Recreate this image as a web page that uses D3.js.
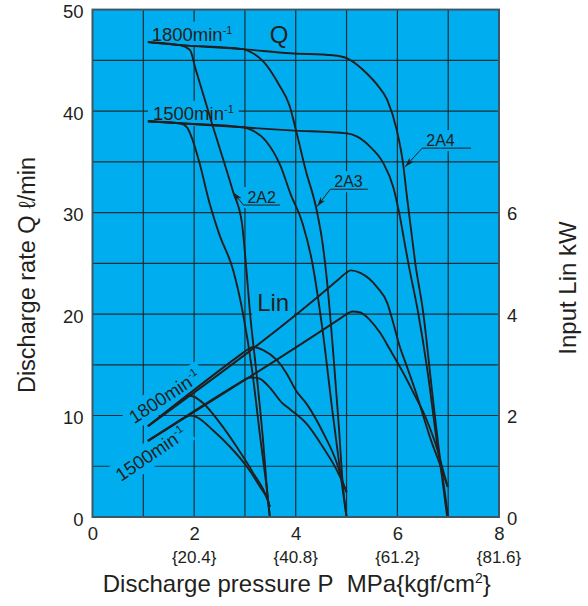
<!DOCTYPE html>
<html>
<head>
<meta charset="utf-8">
<script src="https://d3js.org/d3.v7.min.js"></script>
<style>
  body { margin: 0; background: #fff; }
  svg { display: block; font-family: "Liberation Sans", Arial, Helvetica, sans-serif; }
</style>
</head>
<body>
<div id="chart"></div>
<script>
// axis ticks
var pressureTicks = [0, 2, 4, 6, 8];
var kgfTicks = [2, 4, 6, 8];
var kgfLabels = ["{20.4}", "{40.8}", "{61.2}", "{81.6}"];
var flowTicks = [0, 10, 20, 30, 40, 50];
var powerTicks = [0, 2, 4, 6];

// discharge rate Q (l/min) against pressure P (MPa)
var q2A2_1800 = [[1.09,46.8],[1.72,46.5],[1.92,46.0],[2.02,44.3],[2.35,38.8],[2.77,32.0],[2.94,29.0],[3.03,24.3],[3.10,20.1],[3.22,14.5],[3.35,7.9],[3.45,1.9],[3.49,0]];
var q2A2_1500 = [[1.09,39.0],[1.72,38.8],[1.86,38.4],[1.96,37.3],[2.1,35.0],[2.3,31.0],[2.5,27.8],[2.77,24.3],[2.96,20.1],[3.14,14.5],[3.30,7.9],[3.45,1.9],[3.49,0]];
var q2A3_1800 = [[1.09,46.8],[1.72,46.5],[2.96,46.1],[3.12,45.8],[3.36,44.9],[3.67,42.6],[3.88,40.5],[4.01,38.0],[4.2,34.1],[4.4,30.5],[4.53,26.9],[4.61,23.5],[4.75,15.4],[4.85,8.8],[4.92,3.6],[5.0,0]];
var q2A3_1500 = [[1.09,39.0],[1.72,38.8],[2.96,38.4],[3.1,38.2],[3.42,37.0],[3.7,34.6],[3.9,31.8],[4.13,29.0],[4.32,25.2],[4.52,18.7],[4.72,10.5],[4.89,3.9],[5.0,0]];
var q2A4_1800 = [[1.09,46.8],[1.72,46.5],[2.96,46.1],[3.89,45.7],[4.73,45.5],[5.01,45.2],[5.2,44.6],[5.40,43.7],[5.60,42.6],[5.80,41.1],[5.99,38.1],[6.11,34.9],[6.19,31.5],[6.27,28.3],[6.35,25.1],[6.51,20.1],[6.68,12.5],[6.80,7.3],[6.90,3.6],[7.0,0]];
var q2A4_1500 = [[1.09,39.0],[1.72,38.8],[2.96,38.4],[3.89,38.1],[5.01,37.8],[5.2,37.5],[5.46,36.5],[5.72,34.9],[5.92,32.5],[6.05,29.6],[6.15,26.8],[6.22,24.9],[6.41,20.1],[6.59,14.5],[6.78,7.3],[6.88,3.9],[6.98,0]];

// input power Lin (kW) against pressure P (MPa)
var lin2A2_1800 = [[1.09,1.79],[1.6,2.18],[1.8,2.34],[1.9,2.39],[2.0,2.37],[2.17,2.25],[2.51,1.85],[2.84,1.38],[3.16,0.87],[3.45,0.33],[3.49,0.2]];
var lin2A2_1500 = [[1.09,1.5],[1.6,1.82],[1.8,1.95],[1.92,2.0],[2.05,1.97],[2.37,1.71],[2.71,1.38],[3.04,0.99],[3.30,0.59],[3.45,0.33],[3.49,0.2]];
var lin2A3_1800 = [[1.09,1.79],[2.9,3.19],[3.05,3.3],[3.16,3.35],[3.36,3.29],[3.63,3.09],[3.82,2.83],[4.0,2.5],[4.22,2.22],[4.54,1.66],[4.81,1.06],[4.93,0.67],[5.0,0.49]];
var lin2A3_1500 = [[1.09,1.5],[2.9,2.65],[3.0,2.71],[3.1,2.75],[3.28,2.73],[3.48,2.56],[3.73,2.25],[3.89,2.12],[4.22,1.83],[4.54,1.37],[4.81,0.92],[4.93,0.67],[5.0,0.49]];
var lin2A4_1800 = [[1.09,1.79],[4.85,4.69],[5.0,4.82],[5.08,4.86],[5.27,4.81],[5.6,4.53],[5.8,4.22],[5.92,3.82],[6.05,3.35],[6.19,2.96],[6.35,2.5],[6.68,1.46],[6.86,0.98],[6.99,0.59]];
var lin2A4_1500 = [[1.09,1.5],[4.9,3.93],[5.02,4.01],[5.11,4.05],[5.27,4.03],[5.46,3.88],[5.66,3.63],[5.86,3.29],[6.01,3.03],[6.19,2.7],[6.29,2.5],[6.57,1.93],[6.78,1.35],[6.88,0.99],[6.99,0.59]];

var qSeries = [q2A2_1800, q2A2_1500, q2A3_1800, q2A3_1500, q2A4_1800, q2A4_1500];
var linSeries = [lin2A2_1800, lin2A2_1500, lin2A3_1800, lin2A3_1500, lin2A4_1800, lin2A4_1500];

// model callouts: underline from p0 to p1 at flow q, arrow to (tipP, tipQ)
var models = [
  {name: "2A2", p0: 2.97, p1: 3.69, q: 30.74, tipP: 2.77, tipQ: 32.0},
  {name: "2A3", p0: 4.68, p1: 5.42, q: 32.3, tipP: 4.42, tipQ: 30.6},
  {name: "2A4", p0: 6.49, p1: 7.45, q: 36.35, tipP: 6.15, tipQ: 34.5}
];

var bg = "#00aeef", ink = "#231f20", gridColor = "#1d2c33";
var W = 588, H = 606;
var margin = {top: 9.6, right: 89, bottom: 89, left: 92.5},
    width = W - margin.left - margin.right,
    height = H - margin.top - margin.bottom;

var svg = d3.select("#chart")
  .append("svg")
    .attr("width", W)
    .attr("height", H);

var defs = svg.append("defs");
defs.append("marker")
    .attr("id", "arrow")
    .attr("viewBox", "0 0 10 6")
    .attr("refX", 10).attr("refY", 3)
    .attr("markerWidth", 10).attr("markerHeight", 6)
    .attr("markerUnits", "userSpaceOnUse")
    .attr("orient", "auto")
  .append("path")
    .attr("d", "M0,0 L10,3 L0,6 L3,3 Z")
    .attr("fill", ink);

var g = svg.append("g")
    .attr("transform", "translate(" + margin.left + "," + margin.top + ")");

var x = d3.scaleLinear().domain([0, 8]).range([0, width]);
var y = d3.scaleLinear().domain([0, 50]).range([height, 0]);
var yR = d3.scaleLinear().domain([0, 10]).range([height, 0]);

g.append("rect")
    .attr("width", width)
    .attr("height", height)
    .attr("fill", bg);

// grid
g.append("g").selectAll("line")
  .data(d3.range(1, 8))
  .join("line")
    .attr("x1", d => x(d)).attr("x2", d => x(d))
    .attr("y1", 0).attr("y2", height)
    .attr("stroke", gridColor).attr("stroke-width", 1.2);
g.append("g").selectAll("line")
  .data(d3.range(5, 50, 5))
  .join("line")
    .attr("y1", d => y(d)).attr("y2", d => y(d))
    .attr("x1", 0).attr("x2", width)
    .attr("stroke", gridColor).attr("stroke-width", 1.2);

var gaps = g.append("g");
var curveLayer = g.append("g");
var labelLayer = g.append("g").attr("fill", ink);

var qLine = d3.line()
    .x(d => x(d[0]))
    .y(d => y(d[1]))
    .curve(d3.curveMonotoneX);
var linLine = d3.line()
    .x(d => x(d[0]))
    .y(d => yR(d[1]))
    .curve(d3.curveMonotoneX);

curveLayer.selectAll(".q")
  .data(qSeries)
  .join("path")
    .attr("class", "q")
    .attr("d", qLine)
    .attr("fill", "none")
    .attr("stroke", ink)
    .attr("stroke-width", 1.9);

curveLayer.selectAll(".lin")
  .data(linSeries)
  .join("path")
    .attr("class", "lin")
    .attr("d", linLine)
    .attr("fill", "none")
    .attr("stroke", ink)
    .attr("stroke-width", 1.9);

// speed / quantity labels inside the plot
function addLabel(txt, sup, px, py, size, rot) {
  var t = labelLayer.append("text")
      .attr("transform", "translate(" + px + "," + py + ")" + (rot ? " rotate(" + rot + ")" : ""))
      .attr("font-size", size);
  t.append("tspan").text(txt);
  if (sup) {
    t.append("tspan").attr("font-size", size * 0.6).attr("dy", -size * 0.4).text(sup);
  }
  return t;
}

var labs = [];
labs.push(addLabel("1800min", "-1", x(1.165), y(46.9), 18.5));
labs.push(addLabel("1500min", "-1", x(1.19), y(39.1), 18.5));
labs.push(addLabel("Q", null, x(3.49), y(46.75), 24));
labs.push(addLabel("Lin", null, x(3.24), yR(4.06), 24));
labs.push(addLabel("1800min", "-1", x(0.82), yR(1.83), 18.5, -33));
labs.push(addLabel("1500min", "-1", x(0.56), yR(0.69), 18.5, -34));

models.forEach(function(m) {
  var t = labelLayer.append("text")
      .attr("x", x(m.p0) + 4)
      .attr("y", y(m.q) - 2)
      .attr("font-size", 16)
      .text(m.name);
  labs.push(t);
  labelLayer.append("line")
      .attr("x1", x(m.p0)).attr("x2", x(m.p1))
      .attr("y1", y(m.q)).attr("y2", y(m.q))
      .attr("stroke", ink).attr("stroke-width", 1);
  labelLayer.append("line")
      .attr("x1", x(m.p0)).attr("y1", y(m.q))
      .attr("x2", x(m.tipP)).attr("y2", y(m.tipQ))
      .attr("stroke", ink).attr("stroke-width", 1)
      .attr("marker-end", "url(#arrow)");
});

// cut the grid behind labels
labs.forEach(function(t) {
  var b = t.node().getBBox();
  gaps.append("rect")
      .attr("transform", t.attr("transform"))
      .attr("x", b.x - 5).attr("y", b.y - 2)
      .attr("width", b.width + 10).attr("height", b.height + 4)
      .attr("fill", bg);
});

// frame
g.append("rect")
    .attr("width", width)
    .attr("height", height)
    .attr("fill", "none")
    .attr("stroke", "#3b5866")
    .attr("stroke-width", 2);

// axes
var left = g.append("g")
    .call(d3.axisLeft(y).tickValues(flowTicks).tickSize(0).tickPadding(9));
left.select(".domain").remove();
left.selectAll("text").attr("font-size", 18.5).attr("fill", ink).attr("dy", "0.45em");

var right = g.append("g")
    .attr("transform", "translate(" + width + ",0)")
    .call(d3.axisRight(yR).tickValues(powerTicks).tickSize(0).tickPadding(8));
right.select(".domain").remove();
right.selectAll("text").attr("font-size", 18.5).attr("fill", ink).attr("dy", "0.4em");

var bottom = g.append("g")
    .attr("transform", "translate(0," + height + ")")
    .call(d3.axisBottom(x).tickValues(pressureTicks).tickSize(0).tickPadding(10));
bottom.select(".domain").remove();
bottom.selectAll("text").attr("font-size", 18.5).attr("fill", ink);

g.append("g").selectAll("text")
  .data(kgfTicks)
  .join("text")
    .attr("x", d => x(d))
    .attr("y", height + 46)
    .attr("text-anchor", "middle")
    .attr("font-size", 17)
    .attr("fill", ink)
    .text((d, i) => kgfLabels[i]);

// axis titles
var xt = svg.append("text")
    .attr("x", margin.left + width / 2 + 1)
    .attr("y", 592)
    .attr("text-anchor", "middle")
    .attr("font-size", 24)
    .attr("fill", ink);
xt.append("tspan").text("Discharge pressure P\u00a0 MPa{kgf/cm");
xt.append("tspan").attr("font-size", 14).attr("dy", -9).text("2");
xt.append("tspan").attr("dy", 9).text("}");

svg.append("text")
    .attr("transform", "translate(35,275) rotate(-90)")
    .attr("text-anchor", "middle")
    .attr("font-size", 23.5)
    .attr("fill", ink)
    .text("Discharge rate Q \u2113/min");

svg.append("text")
    .attr("transform", "translate(576,288) rotate(-90)")
    .attr("text-anchor", "middle")
    .attr("font-size", 24)
    .attr("fill", ink)
    .text("Input Lin kW");
</script>
</body>
</html>
